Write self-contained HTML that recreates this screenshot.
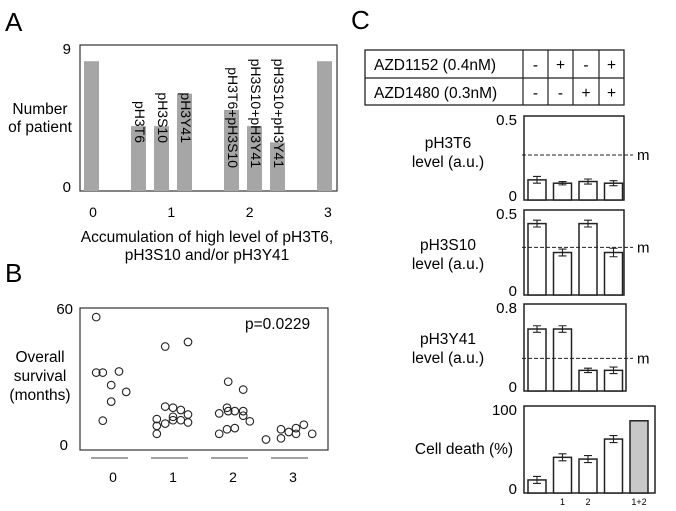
<!DOCTYPE html>
<html><head><meta charset="utf-8"><style>
html,body{margin:0;padding:0;background:#fff;}
svg{display:block;font-family:"Liberation Sans",Arial,sans-serif;}
</style></head><body>
<svg id="fig" width="676" height="511" viewBox="0 0 676 511">
<g id="pA"></g>
<g id="pB"></g>
<g id="pC"></g>
</svg>
<script>
// Panel A data
const aCats = ["0","pH3T6","pH3S10","pH3Y41","pH3T6+pH3S10","pH3S10+pH3Y41","pH3S10+pH3Y41","3"];
const aVals = [8,4,4,6,5,4,3,8];
const aGroups = [0,1,1,1,2,2,2,3];
const aTicks = ["0","1","2","3"];
// Panel B data
const bGroup = [0,0,0,0,0,0,0,0, 1,1,1,1,1,1,1,1,1,1,1,1,1,1, 2,2,2,2,2,2,2,2,2,2,2,2, 3,3,3,3,3,3,3,3];
const bJitter = [-0.23,-0.23,-0.12,0.15,0.02,0.27,0.02,-0.12, -0.08,0.3,-0.08,0.05,0.18,-0.22,-0.22,-0.22,-0.08,0.05,0.05,0.18,0.3,0.3, -0.03,0.22,-0.05,-0.03,0.08,0.22,0.22,-0.18,0.33,-0.18,-0.05,0.08, -0.4,-0.15,-0.15,-0.02,0.1,0.1,0.23,0.37];
const bSurv = [56,31.5,31.5,32,26,23,18.7,10.3, 43,45,16.5,16,15,11,8,4.5,9,12,10.5,10.5,13,9.5, 27.5,24,16,14.5,14.5,14.5,12.5,13.5,10,4.5,6.5,7, 2,2.5,6.5,5.3,7,4.5,8.5,4.5];
const bTicks = ["0","1","2","3"];
// Panel C data
const cT6 = [0.12,0.10,0.11,0.10];
const cT6Err = [0.02,0.01,0.015,0.015];
const cS10 = [0.42,0.25,0.42,0.25];
const cS10Err = [0.02,0.02,0.02,0.025];
const cY41 = [0.57,0.57,0.19,0.19];
const cY41Err = [0.03,0.03,0.02,0.03];
const cDeath = [15,41,39,62,83];
const cDeathErr = [4,4,4,4,0];
const cDeathLabels = ["","1","2","","1+2"];
const mLines = [0.268,0.28,0.30];

const NS="http://www.w3.org/2000/svg";
const FS=15.5;
function mk(parent,tag,attrs,text){const e=document.createElementNS(NS,tag);for(const k in attrs)e.setAttribute(k,attrs[k]);if(text!==undefined)e.textContent=text;parent.appendChild(e);return e;}

// ===== Panel A =====
const pA=document.getElementById('pA');
let t=mk(pA,'text',{x:5,y:31,'font-size':26},'A');


const aY=v=>191-v/9*146;
const aBarX=[84,131,154,177,224,247,270,317];
const aGroupX=g=>93+g*78.3;
let r=mk(pA,'rect',{x:80,y:45,width:257,height:146,fill:'none',stroke:'#333','stroke-width':1.2});


aVals.forEach((v,i)=>{
  const b=mk(pA,'rect',{x:aBarX[i],y:aY(v),width:15,height:191-aY(v),fill:'#a6a6a6'});
  
  
  if(i>0&&i<7){
    const cx=aBarX[i]+7.5, ty=aGroups[i]===1?143:168;
    const l=mk(pA,'text',{x:cx,y:ty,'font-size':14,'text-anchor':'end',transform:`rotate(90 ${cx} ${ty})`,'dominant-baseline':'middle'},aCats[i]);
    
    
  }
});
let yl=mk(pA,'text',{x:71,y:54,'font-size':15,'text-anchor':'end'},'9');

yl=mk(pA,'text',{x:71,y:192,'font-size':15,'text-anchor':'end'},'0');

aTicks.forEach((s,i)=>{const e=mk(pA,'text',{x:aGroupX(i),y:217,'font-size':14,'text-anchor':'middle'},s);
});
let yt=mk(pA,'text',{x:40,y:114,'font-size':FS,'text-anchor':'middle'},'Number');

yt=mk(pA,'text',{x:40,y:132,'font-size':FS,'text-anchor':'middle'},'of patient');

let xt=mk(pA,'text',{x:207,y:242,'font-size':FS,'text-anchor':'middle'},'Accumulation of high level of pH3T6,');

xt=mk(pA,'text',{x:207,y:260,'font-size':FS,'text-anchor':'middle'},'pH3S10 and/or pH3Y41');


// ===== Panel B =====
const pB=document.getElementById('pB');
t=mk(pB,'text',{x:5,y:282,'font-size':26},'B');

const bX=g=>110+g*60;
const bY=v=>444-v/60*136;
r=mk(pB,'rect',{x:80,y:308,width:248,height:142,fill:'none',stroke:'#333','stroke-width':1.2});

bSurv.forEach((v,i)=>{
  const c=mk(pB,'circle',{cx:bX(bGroup[i]+bJitter[i]),cy:bY(v),r:3.8,fill:'none',stroke:'#222','stroke-width':1.1});
  
  
});
bTicks.forEach((s,i)=>{
  const ln=mk(pB,'line',{x1:bX(i)-19,x2:bX(i)+18,y1:458,y2:458,stroke:'#444','stroke-width':1});
  
  const e=mk(pB,'text',{x:bX(i)+3,y:482,'font-size':14,'text-anchor':'middle'},s);
  
});
yl=mk(pB,'text',{x:73,y:314,'font-size':15,'text-anchor':'end'},'60');

yl=mk(pB,'text',{x:68,y:450,'font-size':15,'text-anchor':'end'},'0');

['Overall','survival','(months)'].forEach((s,i)=>{const e=mk(pB,'text',{x:40,y:362+i*19,'font-size':FS,'text-anchor':'middle'},s);
});
let pv=mk(pB,'text',{x:245,y:329,'font-size':FS},'p=0.0229');


// ===== Panel C =====
const pC=document.getElementById('pC');
t=mk(pC,'text',{x:351,y:29,'font-size':26},'C');

r=mk(pC,'rect',{x:365,y:50,width:259,height:55,fill:'none',stroke:'#222','stroke-width':1.3});

mk(pC,'line',{x1:365,x2:624,y1:78,y2:78,stroke:'#222','stroke-width':1.2});
[523,548,573,599].forEach(x=>mk(pC,'line',{x1:x,x2:x,y1:50,y2:105,stroke:'#222','stroke-width':1.2}));
let tr=mk(pC,'text',{x:374,y:70,'font-size':FS},'AZD1152 (0.4nM)');

tr=mk(pC,'text',{x:374,y:98,'font-size':FS},'AZD1480 (0.3nM)');

const row1=['-','+','-','+'],row2=['-','-','+','+'];
const colC=[535.5,560.5,586,611.5];
row1.forEach((s,i)=>{const e=mk(pC,'text',{x:colC[i],y:70,'font-size':FS,'text-anchor':'middle'},s);});
row2.forEach((s,i)=>{const e=mk(pC,'text',{x:colC[i],y:98,'font-size':FS,'text-anchor':'middle'},s);});

function barChart(name,top,bot,right,vmax,vals,errs,maxLabel,titles,titleY,mVal,fills,xlabels){
  const g=mk(pC,'g',{});
  
  
  const y=v=>bot-v/vmax*(bot-top);
  const fr=mk(g,'rect',{x:524,y:top,width:right-524,height:bot-top,fill:'none',stroke:'#222','stroke-width':1.5});
  
  vals.forEach((v,i)=>{
    const x0=528+i*25.5;
    const b=mk(g,'rect',{x:x0,y:y(v),width:18,height:bot-y(v),fill:fills?fills[i]:'#fff',stroke:'#222','stroke-width':1.5});
    
    
    if(errs[i]>0){
      const cx=x0+9;
      const e=mk(g,'path',{d:`M${cx-4},${y(v+errs[i])}H${cx+4}M${cx},${y(v+errs[i])}V${y(v-errs[i])}M${cx-4},${y(v-errs[i])}H${cx+4}`,stroke:'#222','stroke-width':1.1,fill:'none'});
      
      
    }
    if(xlabels&&xlabels[i]){const l=mk(g,'text',{x:x0+9,y:505,'font-size':9,'text-anchor':'middle'},xlabels[i]);
      }
  });
  if(mVal!==null){
    const ln=mk(g,'line',{x1:522,x2:633,y1:y(mVal),y2:y(mVal),stroke:'#222','stroke-width':1,'stroke-dasharray':'4,2'});
    
    const m=mk(g,'text',{x:637,y:y(mVal)+5,'font-size':15},'m');
    
  }
  let a=mk(g,'text',{x:517,y:top+9,'font-size':15,'text-anchor':'end'},maxLabel);
  
  a=mk(g,'text',{x:517,y:bot+1,'font-size':15,'text-anchor':'end'},'0');
  
  titles.forEach((s,i)=>{const e=mk(g,'text',{x:titles.length>1?448:464,y:titleY+i*19,'font-size':FS,'text-anchor':'middle'},s);
    });
}
barChart('chart-ph3t6',116,200,624,0.5,cT6,cT6Err,'0.5',['pH3T6','level (a.u.)'],148,mLines[0]);
barChart('chart-ph3s10',210,295,624,0.5,cS10,cS10Err,'0.5',['pH3S10','level (a.u.)'],250,mLines[1]);
barChart('chart-ph3y41',304,391,626,0.8,cY41,cY41Err,'0.8',['pH3Y41','level (a.u.)'],344,mLines[2]);
barChart('chart-cell-death',406,493,655,100,cDeath,cDeathErr,'100',['Cell death (%)'],454,null,['#fff','#fff','#fff','#fff','#c8c8c8'],cDeathLabels);
</script>
</body></html>
